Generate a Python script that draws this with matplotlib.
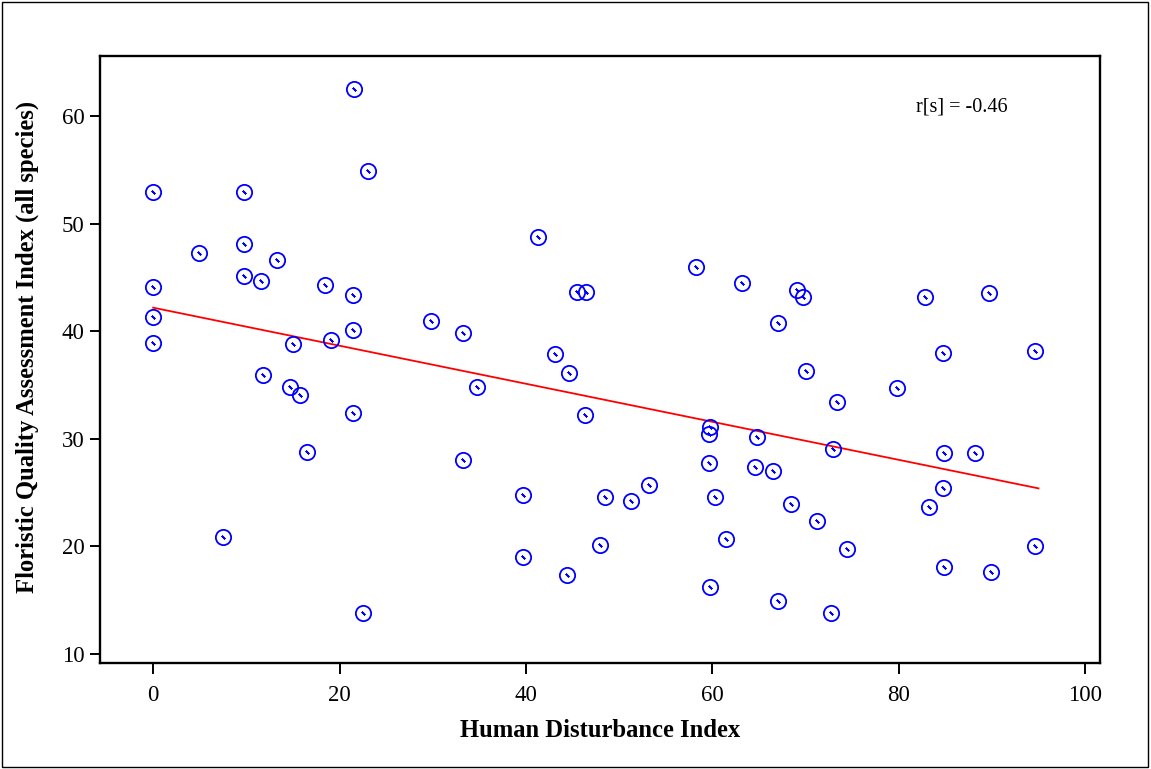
import matplotlib
matplotlib.use("Agg")
import matplotlib.pyplot as plt
import matplotlib.patches as mpatches

# Human Disturbance Index (x) vs FQAI (y)
hdi = [0, 9.8, 4.9, 9.8, 13.3, 9.8, 11.6, 0, 18.4, 21.4, 0, 21.4, 19.1, 15.0,
       0, 11.8, 14.7, 15.8, 21.4, 16.5, 7.5, 22.5, 21.6, 23.1,
       41.3, 58.3, 45.5, 46.4, 29.8, 33.2, 43.1, 44.6, 34.7, 46.3, 59.8, 59.6,
       33.2, 59.6, 53.2, 39.7, 48.5, 51.3, 60.3, 61.5, 48.0, 39.7, 44.4, 59.8,
       63.2, 69.1, 69.7, 82.8, 89.7, 67.0, 84.7, 94.6, 70.0, 79.8, 73.4, 64.8,
       72.9, 64.6, 66.5, 84.9, 88.2, 84.7, 83.2, 68.4, 71.2, 74.4, 94.6, 84.9,
       89.9, 67.0, 72.7]
fqai = [53.0, 53.0, 47.3, 48.1, 46.6, 45.1, 44.7, 44.1, 44.3, 43.4, 41.3, 40.1,
        39.2, 38.8, 38.9, 35.9, 34.8, 34.1, 32.4, 28.8, 20.9, 13.8, 62.5, 54.9,
        48.8, 46.0, 43.7, 43.7, 41.0, 39.8, 37.9, 36.1, 34.8, 32.2, 31.1, 30.5,
        28.0, 27.8, 25.7, 24.8, 24.6, 24.2, 24.6, 20.7, 20.1, 19.0, 17.3, 16.2,
        44.5, 43.8, 43.2, 43.2, 43.6, 40.8, 38.0, 38.2, 36.3, 34.7, 33.4, 30.2,
        29.1, 27.4, 27.0, 28.7, 28.7, 25.4, 23.7, 23.9, 22.4, 19.8, 20.0, 18.1,
        17.6, 14.9, 13.8]

# regression line end points
fit_x = [0, 95]
fit_y = [42.2, 25.4]

xticks = [0, 20, 40, 60, 80, 100]
yticks = [10, 20, 30, 40, 50, 60]

plt.rcParams["font.family"] = ["Liberation Serif", "DejaVu Serif"]

fig = plt.figure(figsize=(11.51, 7.69), dpi=100)
ax = fig.add_axes([0.0869, 0.1378, 0.8688, 0.7894])

# outer frame around the whole figure
fig.patches.append(mpatches.Rectangle((0.002, 0.003), 0.995, 0.994,
                                      transform=fig.transFigure, fill=False,
                                      edgecolor="black", lw=1.0))

ax.plot(hdi, fqai, "o", ms=11, mfc="none", mec="#0000ff", mew=1.3,
        ls="none", zorder=3)
ax.plot(hdi, fqai, marker=(2, 2, 45), ms=3.2, mec="#0000ff", mew=1.3,
        ls="none", zorder=3)
ax.plot(fit_x, fit_y, color="#ff0000", lw=1.3, zorder=2)

ax.text(86.8, 60.9, "r[s] = -0.46", ha="center", va="center", fontsize=14.5)

ax.set_xlim(-5.7, 101.6)
ax.set_ylim(9.16, 65.6)
ax.set_xticks(xticks)
ax.set_yticks(yticks)
ax.tick_params(direction="out", width=1.4, labelsize=16.5)
ax.tick_params(axis="x", length=8, pad=8)
ax.tick_params(axis="y", length=7, pad=4)
for s in ax.spines.values():
    s.set_linewidth(1.7)

ax.set_xlabel("Human Disturbance Index", fontsize=17.7, fontweight="bold",
              labelpad=9)
ax.set_ylabel("Floristic Quality Assessment Index (all species)",
              fontsize=17.7, fontweight="bold")
ax.yaxis.set_label_coords(-0.061, 0.52)

fig.savefig("out.png", dpi=100)
